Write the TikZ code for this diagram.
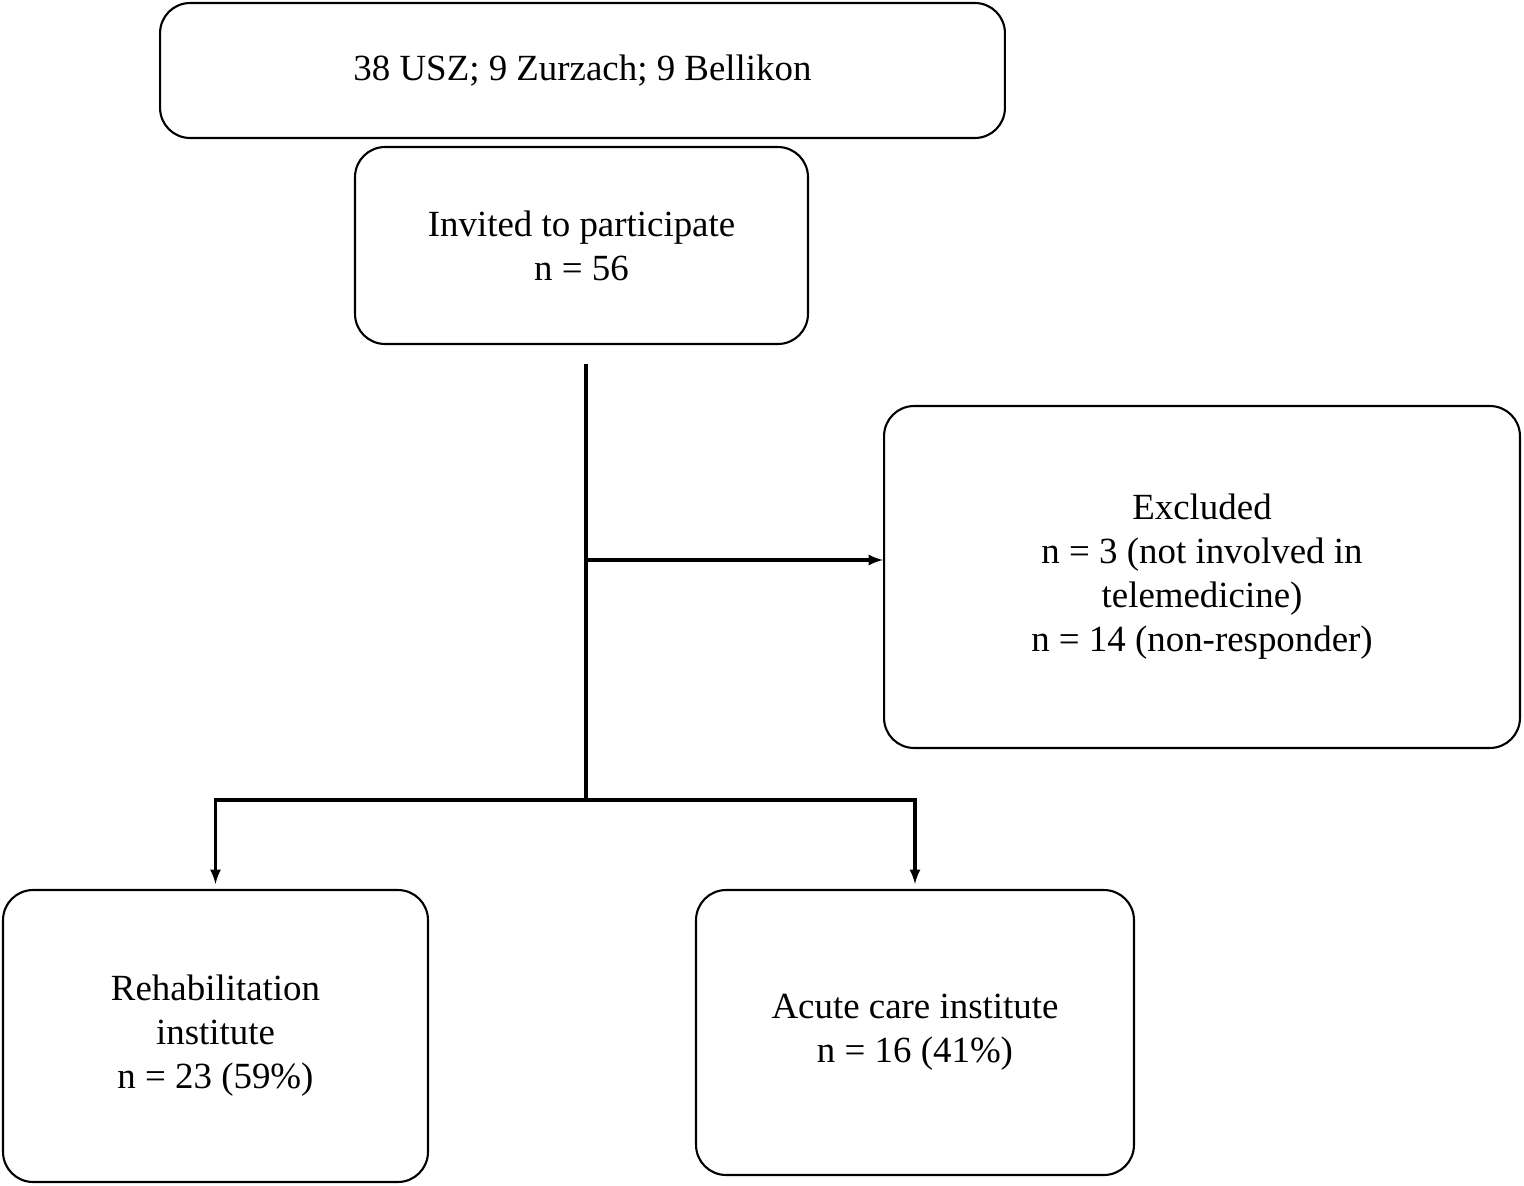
\documentclass[tikz,border=0pt]{standalone}
\usepackage{fontspec}
\setmainfont{Liberation Serif}
\usetikzlibrary{positioning,calc}

\tikzset{
  box/.style={draw,line width=1.2pt,rounded corners=0.6cm,align=center,
    font=\fontsize{21}{25}\selectfont,inner sep=0pt},
  flow/.style={line width=1.8pt},
  arr/.style={flow,-latex}
}

\begin{document}
\begin{tikzpicture}[x=0.02cm,y=-0.02cm]
\useasboundingbox (0,0) rectangle (1524,1186);

% boxes
\node[box,minimum width=16.9cm,minimum height=2.7cm] (sites) at (582.5,70.5) {38 USZ; 9 Zurzach; 9 Bellikon};
\node[box,minimum width=9.06cm,minimum height=3.94cm] (invited) at (581.5,245.5) {Invited to participate\\n = 56};
\node[box,minimum width=12.72cm,minimum height=6.84cm] (excluded) at (1202,577) {Excluded\\n = 3 (not involved in\\telemedicine)\\n = 14 (non-responder)};
\node[box,minimum width=8.5cm,minimum height=5.84cm] (rehab) at (215.5,1036) {Rehabilitation\\institute\\n = 23 (59\%)};
\node[box,minimum width=8.76cm,minimum height=5.7cm] (acute) at (915,1032.5) {Acute care institute\\n = 16 (41\%)};

% connectors
\coordinate (top) at (586,364);
\coordinate (split) at (586,800);
\coordinate (mid) at (586,560);
\draw[flow] (top) -- (split);
\draw[arr] (mid) -- (mid -| excluded.west);
\draw[arr] (split) -| ($(rehab.north)+(0,-5)$);
\draw[arr] (split) -| ($(acute.north)+(0,-5)$);
\end{tikzpicture}
\end{document}
